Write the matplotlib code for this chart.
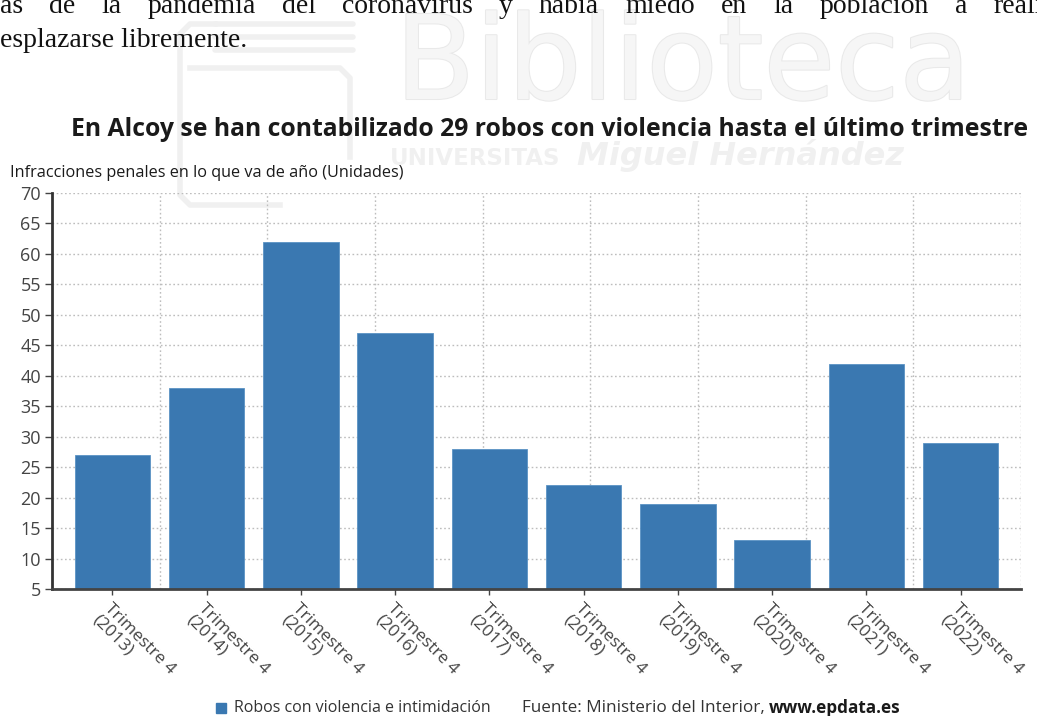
import matplotlib
matplotlib.use("Agg")
import matplotlib.pyplot as plt
import matplotlib.patheffects as pe

# Chart data
YEARS = ["2013", "2014", "2015", "2016", "2017", "2018", "2019", "2020", "2021", "2022"]
ROBOS = [27, 38, 62, 47, 28, 22, 19, 13, 42, 29]
Y_TICKS = list(range(5, 75, 5))

TITLE = "En Alcoy se han contabilizado 29 robos con violencia hasta el último trimestre"
Y_LABEL = "Infracciones penales en lo que va de año (Unidades)"
SERIES_NAME = "Robos con violencia e intimidación"
SOURCE = "Fuente: Ministerio del Interior, "
SOURCE_WEB = "www.epdata.es"

# Page text around the chart (document scan)
PAGE_LINE_1 = "as de la pandemia del coronavirus y había miedo en la población a realizar"
PAGE_LINE_2 = "esplazarse libremente."

BAR_COLOR = "#3a78b1"
FONT = "Open Sans"
WM = "#f0f0f0"  # watermark grey

W, H = 1037, 716
fig = plt.figure(figsize=(W / 100, H / 100), dpi=100)
fig.patch.set_facecolor("white")

# background layer in pixel coordinates (top-left origin)
bg = fig.add_axes([0, 0, 1, 1], zorder=0)
bg.set_xlim(0, W)
bg.set_ylim(H, 0)
bg.axis("off")

# library watermark
bg.text(395, 99, "Biblioteca", fontsize=84, family="DejaVu Sans", color="#f6f6f6",
        path_effects=[pe.withStroke(linewidth=1.5, foreground="#e9e9e9")])
bg.text(390, 165, "UNIVERSITAS", fontsize=16.5, family="DejaVu Sans", weight="bold", color=WM)
bg.text(577, 165, "Miguel Hernández", fontsize=23, family="DejaVu Sans", weight="bold",
        style="italic", color=WM)
for yy in [24, 37, 50]:
    bg.plot([215, 353], [yy, yy], color=WM, lw=4, solid_capstyle="round")
bg.plot([215, 190, 180, 180, 190, 280], [24, 24, 34, 195, 205, 205], color=WM, lw=4)
bg.plot([190, 340, 350, 350], [68, 68, 78, 157], color=WM, lw=4)

# page text, first line justified across the width
renderer = fig.canvas.get_renderer()
words = PAGE_LINE_1.split()
texts = [bg.text(0, 0, w, fontsize=20, family="Liberation Serif", color="#111111")
         for w in words]
widths = [t.get_window_extent(renderer).width for t in texts]
n_first = words.index("y") + 1
gap = (513 - sum(widths[:n_first])) / (n_first - 1)
x = 0
for t, w in zip(texts, widths):
    t.set_position((x, 13))
    x += w + gap
bg.text(0, 47, PAGE_LINE_2, fontsize=20, family="Liberation Serif", color="#111111")

# chart
ax = fig.add_axes([52 / W, 1 - 589 / H, (1021 - 52) / W, (589 - 193) / H], zorder=2)
ax.set_facecolor("none")
xs = list(range(len(YEARS)))
ax.bar(xs, ROBOS, width=0.8, color=BAR_COLOR, edgecolor="#5b93c4",
       linewidth=0.6, zorder=3)
ax.set_xlim(-0.64, len(YEARS) - 1 + 0.64)
ax.set_ylim(5, 70)
ax.set_yticks(Y_TICKS)
ax.set_yticklabels([str(v) for v in Y_TICKS], family=FONT, fontsize=13, color="#444444")
ax.set_xticks(xs)
ax.set_xticklabels([f"Trimestre 4\n({y})" for y in YEARS], family=FONT, fontsize=12.5,
                   color="#444444", rotation=-45, ha="left", va="top",
                   rotation_mode="anchor", linespacing=1.05)
ax.tick_params(axis="y", length=5, width=1, color="#444444", pad=3)
ax.tick_params(axis="x", length=4, width=1, color="#444444", pad=4)

ax.grid(axis="y", linestyle=(0, (1.2, 1.8)), color="#bdbdbd", linewidth=1, zorder=0)
for k in range(1, 10):
    ax.axvline(-0.64 + k * (len(YEARS) - 1 + 1.28) / 9, linestyle=(0, (1.2, 1.8)),
               color="#bdbdbd", linewidth=1, zorder=0)

for side in ["top", "right"]:
    ax.spines[side].set_visible(False)
ax.spines["left"].set_linestyle((0, (1, 1)))
ax.spines["left"].set_linewidth(2)
ax.spines["left"].set_color("#333333")
ax.spines["bottom"].set_linestyle((0, (1, 1)))
ax.spines["bottom"].set_linewidth(2)
ax.spines["bottom"].set_color("#444444")
ax.spines["bottom"].set_zorder(4)

fig.text(550 / W, 1 - 130 / H, TITLE, family=FONT, weight="bold", fontsize=17.8,
         color="#1a1a1a", ha="center", va="center")
fig.text(10 / W, 1 - 173 / H, Y_LABEL, family=FONT, fontsize=11.7, color="#1a1a1a",
         ha="left", va="center")

# legend row
bg.add_patch(plt.Rectangle((216, 703), 10, 10, color=BAR_COLOR))
fig.text(234 / W, 1 - 708 / H, SERIES_NAME, family=FONT, fontsize=11.5, color="#333333",
         va="center")
src = fig.text(522 / W, 1 - 708 / H, SOURCE, family=FONT, fontsize=12.3, color="#333333",
               va="center")
sw = src.get_window_extent(renderer).width
fig.text((522 + sw) / W, 1 - 708 / H, SOURCE_WEB, family=FONT, fontsize=12.3, weight="bold",
         color="#1a1a1a", va="center")

fig.savefig("out.png", dpi=100)
